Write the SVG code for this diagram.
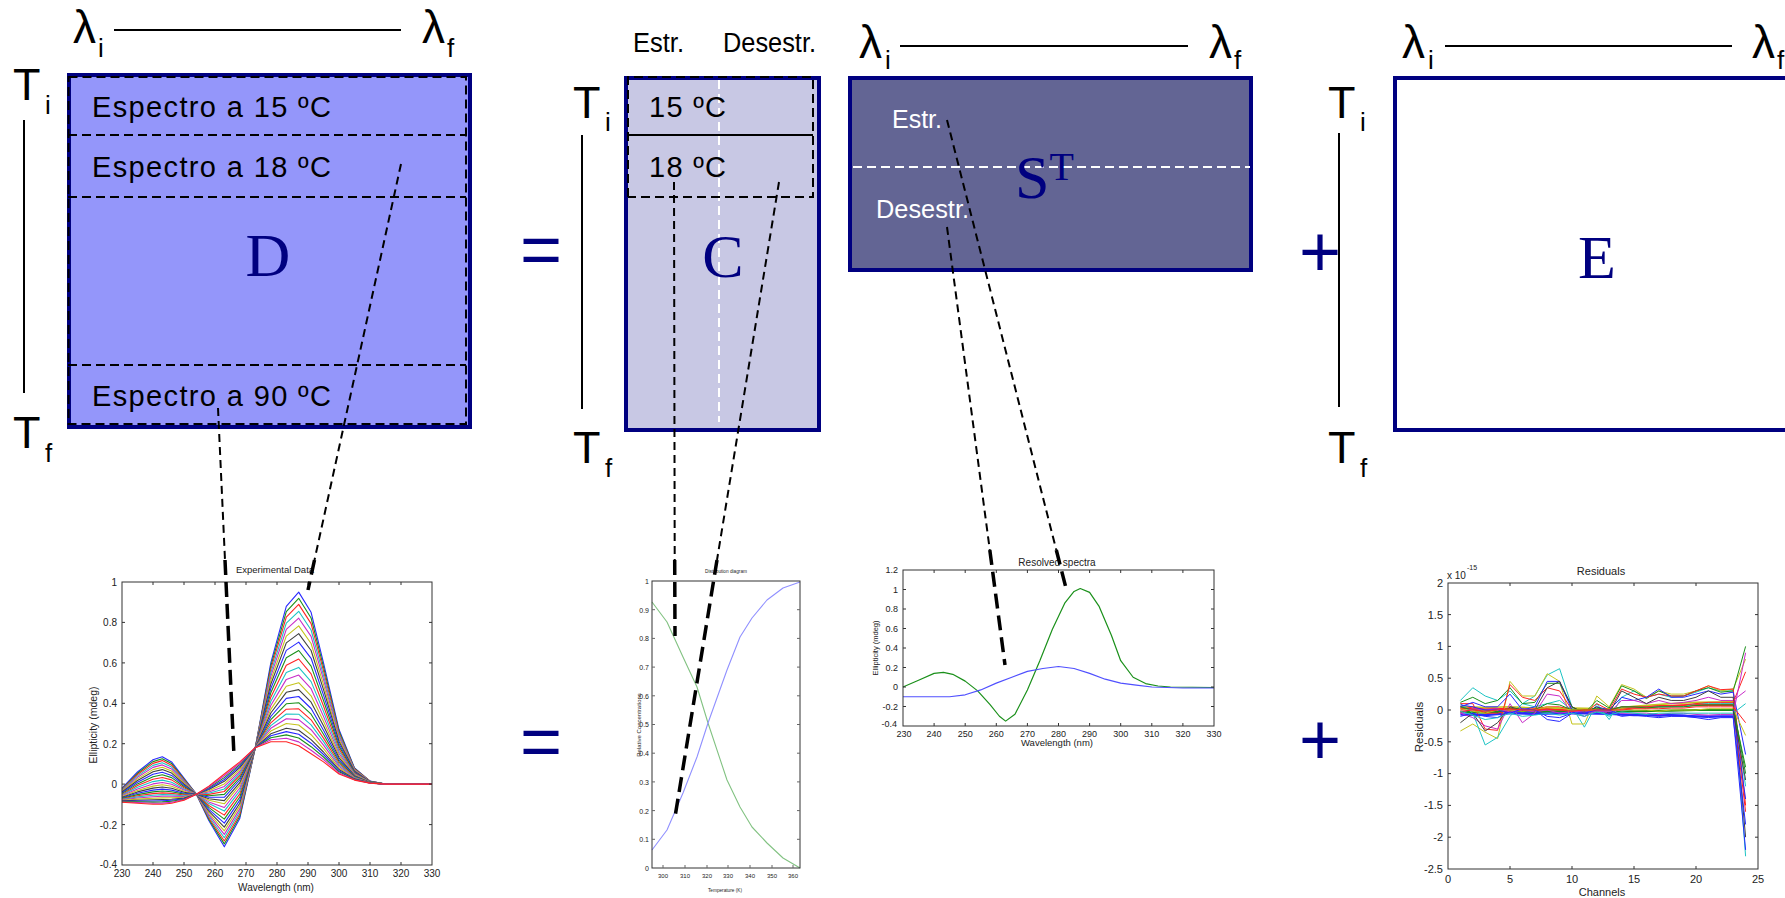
<svg xmlns="http://www.w3.org/2000/svg" width="1785" height="898" viewBox="0 0 1785 898">
<style>
.s{font-family:"Liberation Sans",Arial,sans-serif}
.lab{font-family:"Liberation Sans",Arial,sans-serif;fill:#000}
.big{font-family:"Liberation Serif","Times New Roman",serif;fill:#000080;font-size:62px}
.op{font-family:"Liberation Sans",Arial,sans-serif;fill:#000080;font-size:72px;text-anchor:middle}
.mat{stroke:#000080;stroke-width:4}
.dk{stroke:#000;stroke-width:2;stroke-dasharray:9 5;fill:none}
.wd{stroke:#fff;stroke-width:2;stroke-dasharray:9 5;fill:none}
.ax{stroke:#000;stroke-width:2;fill:none}
.cn{stroke:#000;stroke-width:2;stroke-dasharray:8 5;fill:none}
.cb{stroke:#000;stroke-width:3.5;stroke-dasharray:15 7;fill:none}
.tk{font-family:"Liberation Sans",Arial,sans-serif;fill:#222}
.box{fill:none;stroke:#333;stroke-width:1}
.cv{fill:none;stroke-width:1.1;stroke-linejoin:round}
.nv{fill:none;stroke-linejoin:round;vector-effect:non-scaling-stroke}
.b{stroke:#2828ff}.g{stroke:#1a901a}.r{stroke:#ff2424}.c{stroke:#1cc4c4}.m{stroke:#c82cc8}.y{stroke:#c4c41c}.k{stroke:#404040}
</style>

<!-- Matrix D -->
<g id="matrix-D">
<text class="lab" font-size="46"><tspan x="73" y="43">λ</tspan><tspan x="98" y="57" font-size="26">i</tspan></text>
<line class="ax" x1="114" y1="30" x2="401" y2="30"/>
<text class="lab" font-size="46"><tspan x="422" y="43">λ</tspan><tspan x="447" y="57" font-size="26">f</tspan></text>
<text class="lab" font-size="45"><tspan x="13" y="100">T</tspan><tspan x="45" y="114" font-size="26">i</tspan></text>
<line class="ax" x1="24" y1="120" x2="24" y2="393"/>
<text class="lab" font-size="45"><tspan x="13" y="448">T</tspan><tspan x="45" y="462" font-size="26">f</tspan></text>
<rect class="mat" x="69" y="75" width="401" height="352" fill="#9496fa"/>
<rect class="dk" x="68.5" y="77" width="397.5" height="347"/>
<line class="dk" x1="68" y1="135" x2="466" y2="135"/>
<line class="dk" x1="68" y1="197" x2="466" y2="197"/>
<line class="dk" x1="68" y1="365" x2="466" y2="365"/>
<text class="lab" font-size="29" x="92" y="117" textLength="239" lengthAdjust="spacing">Espectro a 15 ºC</text>
<text class="lab" font-size="29" x="92" y="177" textLength="239" lengthAdjust="spacing">Espectro a 18 ºC</text>
<text class="lab" font-size="29" x="92" y="406" textLength="239" lengthAdjust="spacing">Espectro a 90 ºC</text>
<text class="big" x="268" y="276" text-anchor="middle">D</text>
</g>

<g id="op-eq-top"><text class="op" x="541" y="274">=</text></g>

<!-- Matrix C -->
<g id="matrix-C">
<text class="lab" font-size="27" x="633" y="52" textLength="51" lengthAdjust="spacingAndGlyphs">Estr.</text>
<text class="lab" font-size="27" x="723" y="52" textLength="93" lengthAdjust="spacingAndGlyphs">Desestr.</text>
<text class="lab" font-size="45"><tspan x="573" y="118">T</tspan><tspan x="605" y="131" font-size="26">i</tspan></text>
<line class="ax" x1="582" y1="135" x2="582" y2="409"/>
<text class="lab" font-size="45"><tspan x="573" y="463">T</tspan><tspan x="605" y="477" font-size="26">f</tspan></text>
<rect class="mat" x="626" y="78" width="193" height="352" fill="#c8c8e4"/>
<line class="wd" x1="719" y1="80" x2="719" y2="422"/>
<path class="dk" d="M628 197 V77 H813 V197 H628"/>
<line stroke="#000" stroke-width="2" x1="628" y1="135" x2="813" y2="135"/>
<text class="lab" font-size="29" x="649" y="117" textLength="77" lengthAdjust="spacing">15 ºC</text>
<text class="lab" font-size="29" x="649" y="177" textLength="77" lengthAdjust="spacing">18 ºC</text>
<text class="big" x="723" y="277" text-anchor="middle">C</text>
</g>

<!-- Matrix S^T -->
<g id="matrix-ST">
<text class="lab" font-size="46"><tspan x="859" y="58">λ</tspan><tspan x="885" y="69" font-size="26">i</tspan></text>
<line class="ax" x1="900" y1="46" x2="1188" y2="46"/>
<text class="lab" font-size="46"><tspan x="1209" y="58">λ</tspan><tspan x="1234" y="69" font-size="26">f</tspan></text>
<rect class="mat" x="850" y="78" width="401" height="192" fill="#636594"/>
<line class="wd" x1="853" y1="167" x2="1250" y2="167"/>
<text class="s" fill="#fff" font-size="25" x="892" y="128" textLength="50" lengthAdjust="spacingAndGlyphs">Estr.</text>
<text class="s" fill="#fff" font-size="25" x="876" y="218" textLength="93" lengthAdjust="spacingAndGlyphs">Desestr.</text>
<text class="big" x="1015" y="198">S<tspan font-size="40" y="180">T</tspan></text>
</g>

<g id="op-plus-top"><text class="op" x="1320" y="276">+</text></g>

<!-- Matrix E -->
<g id="matrix-E">
<text class="lab" font-size="45"><tspan x="1328" y="118">T</tspan><tspan x="1360" y="131" font-size="26">i</tspan></text>
<line class="ax" x1="1339" y1="133" x2="1339" y2="407"/>
<text class="lab" font-size="45"><tspan x="1328" y="463">T</tspan><tspan x="1360" y="477" font-size="26">f</tspan></text>
<text class="lab" font-size="46"><tspan x="1402" y="58">λ</tspan><tspan x="1428" y="69" font-size="26">i</tspan></text>
<line class="ax" x1="1445" y1="46" x2="1732" y2="46"/>
<text class="lab" font-size="46"><tspan x="1752" y="58">λ</tspan><tspan x="1777" y="69" font-size="26">f</tspan></text>
<rect class="mat" x="1395" y="78" width="430" height="352" fill="#fff"/>
<text class="big" x="1597" y="278" text-anchor="middle">E</text>
</g>

<!-- Chart: Experimental data -->
<g id="chart-experimental">
<text class="tk" font-size="9.5" x="275" y="573" text-anchor="middle">Experimental Data</text>
<g class="cv">
<path class="b" d="M122,788.2 L137.5,772 153,759.8 162.3,756.8 171.6,761.9 184,778.1 196.4,794.2 208.8,820.5 224.3,846.8 239.8,818.5 255.3,747.7 270.8,662.9 286.3,606.3 298.7,592.1 311.1,612.3 323.5,662.9 339,729.5 354.5,768 370,781.1 385.5,784.1 432,784.1"/>
<path class="g" d="M122,788.8 L137.5,773.3 153,761.6 162.3,758.7 171.6,763.6 184,779 196.4,794.2 208.8,819.1 224.3,843.9 239.8,816.3 255.3,747.7 270.8,666.1 286.3,611.7 298.7,598.3 311.1,618 323.5,666.9 339,731.3 354.5,768.5 370,781.2 385.5,784.1 432,784.1"/>
<path class="r" d="M122,789.3 L137.5,774.5 153,763.4 162.3,760.6 171.6,765.2 184,779.9 196.4,794.2 208.8,817.7 224.3,841 239.8,814 255.3,747.7 270.8,669.2 286.3,617.1 298.7,604.4 311.1,623.6 323.5,670.8 339,733.1 354.5,769 370,781.3 385.5,784.1 432,784.1"/>
<path class="c" d="M122,790 L137.5,775.9 153,765.4 162.3,762.8 171.6,767.1 184,780.9 196.4,794.2 208.8,816.2 224.3,837.7 239.8,811.5 255.3,747.7 270.8,672.8 286.3,623.2 298.7,611.3 311.1,630 323.5,675.3 339,735.1 354.5,769.6 370,781.4 385.5,784.1 432,784.1"/>
<path class="m" d="M122,790.6 L137.5,777.3 153,767.4 162.3,764.9 171.6,768.9 184,781.9 196.4,794.2 208.8,814.7 224.3,834.4 239.8,808.9 255.3,747.7 270.8,676.3 286.3,629.3 298.7,618.2 311.1,636.4 323.5,679.7 339,737.1 354.5,770.1 370,781.4 385.5,784.1 432,784.1"/>
<path class="y" d="M122,791.3 L137.5,778.9 153,769.6 162.3,767.3 171.6,771 184,783 196.4,794.2 208.8,813 224.3,830.8 239.8,806.1 255.3,747.7 270.8,680.3 286.3,636.1 298.7,625.9 311.1,643.5 323.5,684.7 339,739.3 354.5,770.7 370,781.5 385.5,784.1 432,784.1"/>
<path class="k" d="M122,792 L137.5,780.5 153,771.8 162.3,769.6 171.6,773.1 184,784.1 196.4,794.2 208.8,811.2 224.3,827.1 239.8,803.2 255.3,747.7 270.8,684.2 286.3,642.9 298.7,633.6 311.1,650.5 323.5,689.6 339,741.5 354.5,771.3 370,781.6 385.5,784.1 432,784.1"/>
<path class="b" d="M122,792.8 L137.5,782.2 153,774.3 162.3,772.2 171.6,775.4 184,785.3 196.4,794.2 208.8,809.3 224.3,823.1 239.8,800.1 255.3,747.7 270.8,688.5 286.3,650.4 298.7,642.1 311.1,658.3 323.5,695.1 339,744 354.5,772 370,781.8 385.5,784.1 432,784.1"/>
<path class="g" d="M122,793.6 L137.5,783.9 153,776.7 162.3,774.8 171.6,777.6 184,786.5 196.4,794.2 208.8,807.4 224.3,819.1 239.8,797 255.3,747.7 270.8,692.8 286.3,657.8 298.7,650.5 311.1,666.1 323.5,700.5 339,746.4 354.5,772.6 370,781.9 385.5,784.1 432,784.1"/>
<path class="r" d="M122,794.4 L137.5,785.6 153,779.2 162.3,777.5 171.6,779.9 184,787.8 196.4,794.2 208.8,805.5 224.3,815.1 239.8,793.9 255.3,747.7 270.8,697.2 286.3,665.2 298.7,659 311.1,673.9 323.5,706 339,748.9 354.5,773.3 370,782 385.5,784.1 432,784.1"/>
<path class="c" d="M122,795.1 L137.5,787.3 153,781.6 162.3,780.1 171.6,782.2 184,789 196.4,794.2 208.8,803.6 224.3,811.1 239.8,790.8 255.3,747.7 270.8,701.5 286.3,672.6 298.7,667.4 311.1,681.6 323.5,711.4 339,751.3 354.5,773.9 370,782.1 385.5,784.1 432,784.1"/>
<path class="m" d="M122,795.8 L137.5,788.9 153,783.9 162.3,782.5 171.6,784.3 184,790.1 196.4,794.2 208.8,801.9 224.3,807.5 239.8,788 255.3,747.7 270.8,705.5 286.3,679.4 298.7,675.1 311.1,688.7 323.5,716.4 339,753.6 354.5,774.5 370,782.2 385.5,784.1 432,784.1"/>
<path class="y" d="M122,796.5 L137.5,790.5 153,786.1 162.3,784.8 171.6,786.3 184,791.2 196.4,794.2 208.8,800.2 224.3,803.8 239.8,785.1 255.3,747.7 270.8,709.4 286.3,686.2 298.7,682.7 311.1,695.8 323.5,721.3 339,755.8 354.5,775.1 370,782.3 385.5,784.1 432,784.1"/>
<path class="k" d="M122,797.2 L137.5,791.9 153,788.1 162.3,787 171.6,788.2 184,792.2 196.4,794.2 208.8,798.7 224.3,800.6 239.8,782.6 255.3,747.7 270.8,713 286.3,692.3 298.7,689.6 311.1,702.2 323.5,725.8 339,757.8 354.5,775.7 370,782.4 385.5,784.1 432,784.1"/>
<path class="b" d="M122,797.8 L137.5,793.3 153,790.1 162.3,789.1 171.6,790.1 184,793.2 196.4,794.2 208.8,797.1 224.3,797.3 239.8,780 255.3,747.7 270.8,716.5 286.3,698.4 298.7,696.5 311.1,708.5 323.5,730.2 339,759.8 354.5,776.2 370,782.5 385.5,784.1 432,784.1"/>
<path class="g" d="M122,798.4 L137.5,794.6 153,791.9 162.3,791 171.6,791.8 184,794.1 196.4,794.2 208.8,795.8 224.3,794.4 239.8,777.8 255.3,747.7 270.8,719.7 286.3,703.8 298.7,702.7 311.1,714.2 323.5,734.2 339,761.6 354.5,776.7 370,782.6 385.5,784.1 432,784.1"/>
<path class="r" d="M122,798.9 L137.5,795.8 153,793.6 162.3,792.9 171.6,793.4 184,795 196.4,794.2 208.8,794.4 224.3,791.5 239.8,775.5 255.3,747.7 270.8,722.8 286.3,709.2 298.7,708.8 311.1,719.8 323.5,738.1 339,763.3 354.5,777.2 370,782.6 385.5,784.1 432,784.1"/>
<path class="c" d="M122,799.4 L137.5,796.9 153,795.2 162.3,794.6 171.6,794.9 184,795.8 196.4,794.2 208.8,793.2 224.3,789 239.8,773.5 255.3,747.7 270.8,725.6 286.3,714 298.7,714.2 311.1,724.8 323.5,741.6 339,764.9 354.5,777.6 370,782.7 385.5,784.1 432,784.1"/>
<path class="m" d="M122,799.9 L137.5,798 153,796.7 162.3,796.2 171.6,796.3 184,796.5 196.4,794.2 208.8,791.9 224.3,786.4 239.8,771.5 255.3,747.7 270.8,728.3 286.3,718.7 298.7,719.6 311.1,729.7 323.5,745.1 339,766.4 354.5,778 370,782.8 385.5,784.1 432,784.1"/>
<path class="y" d="M122,800.4 L137.5,799.1 153,798.3 162.3,797.9 171.6,797.8 184,797.3 196.4,794.2 208.8,790.7 224.3,783.9 239.8,769.6 255.3,747.7 270.8,731.1 286.3,723.5 298.7,725 311.1,734.7 323.5,748.6 339,768 354.5,778.5 370,782.9 385.5,784.1 432,784.1"/>
<path class="k" d="M122,800.9 L137.5,800.2 153,799.8 162.3,799.5 171.6,799.2 184,798.1 196.4,794.2 208.8,789.5 224.3,781.3 239.8,767.6 255.3,747.7 270.8,733.8 286.3,728.2 298.7,730.3 311.1,739.6 323.5,752 339,769.5 354.5,778.9 370,782.9 385.5,784.1 432,784.1"/>
<path class="b" d="M122,801.3 L137.5,801 153,801 162.3,800.7 171.6,800.2 184,798.7 196.4,794.2 208.8,788.7 224.3,779.5 239.8,766.2 255.3,747.7 270.8,735.8 286.3,731.6 298.7,734.2 311.1,743.2 323.5,754.5 339,770.7 354.5,779.2 370,783 385.5,784.1 432,784.1"/>
<path class="g" d="M122,801.6 L137.5,801.7 153,802.1 162.3,801.9 171.6,801.2 184,799.2 196.4,794.2 208.8,787.8 224.3,777.6 239.8,764.7 255.3,747.7 270.8,737.8 286.3,734.9 298.7,738 311.1,746.7 323.5,757 339,771.8 354.5,779.5 370,783 385.5,784.1 432,784.1"/>
<path class="m" d="M122,802 L137.5,802.5 153,803.2 162.3,803.1 171.6,802.3 184,799.8 196.4,794.2 208.8,787 224.3,775.8 239.8,763.3 255.3,747.7 270.8,739.8 286.3,738.3 298.7,741.9 311.1,750.3 323.5,759.5 339,772.9 354.5,779.8 370,783.1 385.5,784.1 432,784.1"/>
<path class="r" d="M122,802.3 L137.5,803.3 153,804.3 162.3,804.3 171.6,803.3 184,800.3 196.4,794.2 208.8,786.1 224.3,774 239.8,761.9 255.3,747.7 270.8,741.7 286.3,741.7 298.7,745.7 311.1,753.8 323.5,761.9 339,774 354.5,780.1 370,783.1 385.5,784.1 432,784.1"/>
</g>
<rect class="box" x="122" y="582" width="310" height="283"/>
<path stroke="#333" stroke-width="1" d="M122,622.4h3M122,662.9h3M122,703.3h3M122,743.7h3M122,784.1h3M122,824.6h3M432,622.4h-3M432,662.9h-3M432,703.3h-3M432,743.7h-3M432,784.1h-3M432,824.6h-3M153,865v-3M184,865v-3M215,865v-3M246,865v-3M277,865v-3M308,865v-3M339,865v-3M370,865v-3M401,865v-3M153,582v3M184,582v3M215,582v3M246,582v3M277,582v3M308,582v3M339,582v3M370,582v3M401,582v3"/>
<g class="tk" font-size="10" text-anchor="end">
<text x="117" y="586">1</text><text x="117" y="626">0.8</text><text x="117" y="667">0.6</text><text x="117" y="707">0.4</text><text x="117" y="748">0.2</text><text x="117" y="788">0</text><text x="117" y="829">-0.2</text><text x="117" y="868">-0.4</text>
</g>
<g class="tk" font-size="10" text-anchor="middle">
<text x="122" y="877">230</text><text x="153" y="877">240</text><text x="184" y="877">250</text><text x="215" y="877">260</text><text x="246" y="877">270</text><text x="277" y="877">280</text><text x="308" y="877">290</text><text x="339" y="877">300</text><text x="370" y="877">310</text><text x="401" y="877">320</text><text x="432" y="877">330</text>
</g>
<text class="tk" font-size="10" x="276" y="891" text-anchor="middle">Wavelength (nm)</text>
<text class="tk" font-size="10.5" text-anchor="middle" transform="translate(97,725) rotate(-90)">Ellipticity (mdeg)</text>
</g>

<g id="op-eq-bottom"><text class="op" x="541" y="766">=</text></g>

<!-- Chart: distribution diagram -->
<g id="chart-distribution">
<text class="tk" fill="#777" font-size="6" x="705" y="573" textLength="42" lengthAdjust="spacingAndGlyphs">Distribution diagram</text>
<path class="cv" stroke="#82c282" stroke-width="1.4" d="M652,602 L667,622 683,657 697,687 708,723 727,780 740,807 752,827 767,843 783,858 800,868"/>
<path class="cv" stroke="#9090ff" stroke-width="1.4" d="M652,850 L667,830 683,793 697,757 708,723 727,670 740,637 752,618 767,600 783,588 800,582"/>
<rect class="box" x="652" y="581" width="148" height="287" stroke="#666"/>
<path stroke="#666" stroke-width="1" d="M652,609.7h3M652,638.4h3M652,667.1h3M652,695.8h3M652,724.5h3M652,753.2h3M652,781.9h3M652,810.6h3M652,839.3h3M800,609.7h-3M800,638.4h-3M800,667.1h-3M800,695.8h-3M800,724.5h-3M800,753.2h-3M800,781.9h-3M800,810.6h-3M800,839.3h-3M663,868v-3M685,868v-3M707,868v-3M728,868v-3M750,868v-3M772,868v-3M793,868v-3"/>
<g class="tk" fill="#666" font-size="7" text-anchor="end">
<text x="649" y="584">1</text><text x="649" y="613">0.9</text><text x="649" y="641">0.8</text><text x="649" y="670">0.7</text><text x="649" y="699">0.6</text><text x="649" y="727">0.5</text><text x="649" y="756">0.4</text><text x="649" y="785">0.3</text><text x="649" y="814">0.2</text><text x="649" y="842">0.1</text><text x="649" y="871">0</text>
</g>
<g class="tk" fill="#666" font-size="6" text-anchor="middle">
<text x="663" y="878">300</text><text x="685" y="878">310</text><text x="707" y="878">320</text><text x="728" y="878">330</text><text x="750" y="878">340</text><text x="772" y="878">350</text><text x="793" y="878">360</text>
</g>
<text class="tk" fill="#777" font-size="6" x="708" y="892" textLength="34" lengthAdjust="spacingAndGlyphs">Temperature (K)</text>
<text class="tk" fill="#777" font-size="6" text-anchor="middle" transform="translate(641,725) rotate(-90)">Relative Concentrations</text>
</g>

<!-- Chart: resolved spectra -->
<g id="chart-resolved">
<text class="tk" font-size="10" x="1057" y="566" text-anchor="middle">Resolved spectra</text>
<g transform="translate(187.7,687) scale(3.11,-97.5)">
<path class="nv g" stroke-width="1.2" d="M230,0 L235,0.07 240,0.14 243,0.15 246,0.13 250,0.06 254,-0.04 258,-0.18 261,-0.3 263,-0.35 266,-0.28 270,-0.03 274,0.27 278,0.59 282,0.86 285,0.98 287,1.01 290,0.97 293,0.83 297,0.53 300,0.27 304,0.1 308,0.035 312,0.01 316,0 330,-0.005"/>
<path class="nv" stroke="#5050ff" stroke-width="1.2" d="M230,-0.1 L245,-0.1 250,-0.08 255,-0.03 260,0.04 265,0.1 270,0.16 275,0.19 280,0.21 285,0.19 290,0.14 295,0.08 300,0.04 305,0.02 310,0 320,-0.01 330,-0.01"/>
</g>
<rect class="box" x="903" y="570" width="311" height="156"/>
<path stroke="#333" stroke-width="1" d="M903,589.5h3M903,609h3M903,628.5h3M903,648h3M903,667.5h3M903,687h3M903,706.5h3M1214,589.5h-3M1214,609h-3M1214,628.5h-3M1214,648h-3M1214,667.5h-3M1214,687h-3M1214,706.5h-3M934.1,726v-3M965.2,726v-3M996.3,726v-3M1027.4,726v-3M1058.5,726v-3M1089.6,726v-3M1120.7,726v-3M1151.8,726v-3M1182.9,726v-3M934.1,570v3M965.2,570v3M996.3,570v3M1027.4,570v3M1058.5,570v3M1089.6,570v3M1120.7,570v3M1151.8,570v3M1182.9,570v3"/>
<g class="tk" font-size="9" text-anchor="end">
<text x="898" y="573">1.2</text><text x="898" y="593">1</text><text x="898" y="612">0.8</text><text x="898" y="632">0.6</text><text x="898" y="651">0.4</text><text x="898" y="671">0.2</text><text x="898" y="690">0</text><text x="898" y="710">-0.2</text><text x="897" y="727">-0.4</text>
</g>
<g class="tk" font-size="9" text-anchor="middle">
<text x="904" y="737">230</text><text x="934.1" y="737">240</text><text x="965.2" y="737">250</text><text x="996.3" y="737">260</text><text x="1027.4" y="737">270</text><text x="1058.5" y="737">280</text><text x="1089.6" y="737">290</text><text x="1120.7" y="737">300</text><text x="1151.8" y="737">310</text><text x="1182.9" y="737">320</text><text x="1214" y="737">330</text>
</g>
<text class="tk" font-size="9.5" x="1057" y="746" text-anchor="middle">Wavelength (nm)</text>
<text class="tk" font-size="7.5" text-anchor="middle" transform="translate(878,648) rotate(-90)">Ellipticity (mdeg)</text>
</g>

<g id="op-plus-bottom"><text class="op" x="1320" y="764">+</text></g>

<!-- Chart: residuals -->
<g id="chart-residuals">
<text class="tk" font-size="11" x="1601" y="575" text-anchor="middle">Residuals</text>
<text class="tk" font-size="10" x="1447" y="579">x 10</text>
<text class="tk" font-size="7" x="1467" y="570">-15</text>
<g transform="translate(1448,710) scale(12.4,-63.6)" stroke-width="1">
<path class="nv r" stroke-width="2.2" d="M1,0.03 L3,0.01 5,0.02 7,0 10,0.01 13,0 15,0.04 18,0.06 20,0.08 23,0.08"/>
<path class="nv g" stroke-width="2.2" d="M1,-0.03 L3,-0.04 5,-0.02 7,-0.03 10,-0.02 13,-0.03 15,-0.02 18,-0.01 20,0 23,0"/>
<path class="nv b" stroke-width="2.2" d="M1,-0.07 L3,-0.08 5,-0.05 7,-0.06 10,-0.05 13,-0.06 15,-0.08 18,-0.08 20,-0.1 23,-0.1"/>
<path class="nv y" stroke-width="1.6" d="M1,0.06 L3,0.04 5,0.05 7,0.03 10,0.03 13,0.02 15,0.06 18,0.1 20,0.12 23,0.13"/>
<path class="nv c" d="M1,0.15 L2,0.35 3,0.22 4,0.15 5,0.3 6,0.1 7,0.22 8,0.55 9,0.65 10,0.05 11,-0.27 12,0.1 13,-0.15 14,0.2 15,0.3 16,0.2 17,0.25 18,0.2 19,0.22 20,0.28 21,0.35 22,0.3 23,0.3 24,-2.3"/>
<path class="nv y" d="M1,-0.33 L2,-0.22 3,-0.35 4,-0.45 5,0.45 6,0.22 7,0.22 8,0.57 9,0.45 10,-0.22 11,-0.22 12,0.22 13,0.05 14,0.4 15,0.33 16,0.2 17,0.3 18,0.25 19,0.25 20,0.3 21,0.38 22,0.3 23,0.33 24,0.8"/>
<path class="nv c" d="M1,0.1 L2,-0.05 3,-0.55 4,-0.43 5,-0.1 6,0.1 7,0.05 8,0.1 9,0.15 10,0 11,-0.1 12,0 13,-0.1 14,0.05 15,0.05 16,0.05 17,0.05 18,0.05 19,0.05 20,0.1 21,0.1 22,0.1 23,0.1 24,-1.2"/>
<path class="nv g" d="M1,0.12 L2,0.2 3,0.1 4,0.15 5,0.35 6,0.1 7,0.12 8,0.42 9,0.42 10,0.05 11,-0.05 12,0.15 13,0.03 14,0.38 15,0.3 16,0.18 17,0.3 18,0.22 19,0.22 20,0.3 21,0.35 22,0.28 23,0.3 24,1"/>
<path class="nv r" d="M1,0.1 L2,0.1 3,-0.3 4,-0.32 5,0.4 6,0.2 7,0.15 8,0.35 9,0.3 10,0 11,-0.05 12,0.1 13,0 14,0.33 15,0.25 16,0.2 17,0.25 18,0.22 19,0.22 20,0.3 21,0.38 22,0.32 23,0.33 24,-1.5"/>
<path class="nv b" d="M1,0.05 L2,0.12 3,0.05 4,0.05 5,0.25 6,0 7,0.05 8,0.45 9,0.45 10,0 11,-0.05 12,0.05 13,0 14,0.2 15,0.15 16,0.2 17,0.33 18,0.2 19,0.2 20,0.25 21,0.3 22,0.25 23,0.28 24,-0.7"/>
<path class="nv m" d="M1,-0.05 L2,-0.12 3,-0.25 4,-0.3 5,0.1 6,-0.2 7,-0.05 8,0.25 9,0.22 10,-0.05 11,-0.1 12,0 13,-0.05 14,0.15 15,0.15 16,0.1 17,0.15 18,0.1 19,0.12 20,0.15 21,0.2 22,0.15 23,0.15 24,0.3"/>
<path class="nv k" d="M1,-0.2 L2,-0.05 3,-0.33 4,-0.2 5,0.05 6,0 7,0 8,0.35 9,0.45 10,0.05 11,-0.05 12,0.05 13,-0.05 14,0.3 15,0.2 16,0.1 17,0.2 18,0.15 19,0.15 20,0.2 21,0.3 22,0.2 23,0.2 24,-2"/>
<path class="nv b" d="M1,-0.1 L2,-0.05 3,-0.1 4,-0.12 5,0 6,-0.05 7,0 8,-0.15 9,-0.18 10,-0.05 11,-0.05 12,0 13,-0.03 14,-0.1 15,-0.08 16,-0.1 17,-0.12 18,-0.1 19,-0.1 20,-0.12 21,-0.15 22,-0.12 23,-0.12 24,-1.8"/>
<path class="nv r" d="M1,0 L2,0.05 3,-0.05 4,-0.05 5,0 6,0 7,0.02 8,0.05 9,0.05 10,0 11,0 12,0 13,0 14,0.05 15,0.05 16,0.05 17,0.07 18,0.07 19,0.08 20,0.1 21,0.12 22,0.12 23,0.12 24,0.6"/>
<path class="nv g" d="M1,0.05 L2,0 3,0 4,-0.03 5,0.03 6,0 7,0 8,0.1 9,0.08 10,0 11,0 12,0.02 13,0 14,0.05 15,0.05 16,0.03 17,0.05 18,0.05 19,0.05 20,0.07 21,0.08 22,0.08 23,0.08 24,-1"/>
<path class="nv y" d="M1,0.02 L2,-0.02 3,-0.05 4,0 5,0 6,-0.02 7,0 8,0.05 9,0.03 10,0 11,0 12,0 13,-0.02 14,0.02 15,0 16,0 17,-0.02 18,0 19,0 20,0 21,0.02 22,0.02 23,0.02 24,-0.4"/>
<path class="nv m" d="M1,-0.05 L2,0.02 3,0 4,0.02 5,-0.03 6,0 7,-0.03 8,0 9,-0.05 10,-0.02 11,-0.03 12,-0.02 13,-0.02 14,-0.05 15,-0.05 16,-0.05 17,-0.07 18,-0.05 19,-0.05 20,-0.07 21,-0.08 22,-0.07 23,-0.07 24,0.9"/>
<path class="nv b" d="M1,0.08 L2,0.05 3,0 4,0 5,-0.05 6,0.02 7,0 8,-0.1 9,-0.12 10,-0.05 11,-0.05 12,0 13,0 14,-0.08 15,-0.07 16,-0.08 17,-0.1 18,-0.08 19,-0.08 20,-0.1 21,-0.12 22,-0.1 23,-0.1 24,-2.2"/>
<path class="nv r" d="M1,-0.02 L2,0 3,-0.02 4,0 5,0.02 6,0 7,0 8,0.02 9,0 10,-0.02 11,0 12,0 13,0 14,0 15,0.02 16,0.02 17,0.02 18,0.03 19,0.03 20,0.05 21,0.05 22,0.05 23,0.05 24,-1.6"/>
<path class="nv c" d="M1,-0.02 L2,-0.08 3,-0.15 4,-0.12 5,-0.05 6,-0.1 7,-0.08 8,-0.05 9,-0.08 10,-0.05 11,-0.1 12,-0.03 13,-0.08 14,-0.03 15,-0.05 16,-0.07 17,-0.05 18,-0.05 19,-0.05 20,-0.05 21,-0.05 22,-0.05 23,-0.05 24,0.1"/>
<path class="nv g" d="M23,0.02 L24,-0.9"/>
<path class="nv b" d="M23,0 L24,-1.4"/>
<path class="nv r" d="M23,0.05 L24,-0.2"/>
<path class="nv k" d="M23,-0.02 L24,-1.1"/>
</g>
<rect class="box" x="1448" y="583" width="310" height="286"/>
<path stroke="#333" stroke-width="1" d="M1448,614.6h3M1448,646.4h3M1448,678.2h3M1448,710h3M1448,741.8h3M1448,773.6h3M1448,805.4h3M1448,837.2h3M1758,614.6h-3M1758,646.4h-3M1758,678.2h-3M1758,710h-3M1758,741.8h-3M1758,773.6h-3M1758,805.4h-3M1758,837.2h-3M1510,869v-3M1572,869v-3M1634,869v-3M1696,869v-3M1510,583v3M1572,583v3M1634,583v3M1696,583v3"/>
<g class="tk" font-size="11" text-anchor="end">
<text x="1443" y="587">2</text><text x="1443" y="619">1.5</text><text x="1443" y="650">1</text><text x="1443" y="682">0.5</text><text x="1443" y="714">0</text><text x="1443" y="746">-0.5</text><text x="1443" y="777">-1</text><text x="1443" y="809">-1.5</text><text x="1443" y="841">-2</text><text x="1443" y="873">-2.5</text>
</g>
<g class="tk" font-size="11" text-anchor="middle">
<text x="1448" y="883">0</text><text x="1510" y="883">5</text><text x="1572" y="883">10</text><text x="1634" y="883">15</text><text x="1696" y="883">20</text><text x="1758" y="883">25</text>
</g>
<text class="tk" font-size="11" x="1602" y="896" text-anchor="middle">Channels</text>
<text class="tk" font-size="11.5" text-anchor="middle" transform="translate(1423,727) rotate(-90)">Residuals</text>
</g>

<!-- Connectors -->
<g id="connectors">
<path class="cn" d="M218,408 L225,560"/>
<path class="cb" d="M225,560 L234,756"/>
<path class="cn" d="M401,164 L314.5,560"/>
<path class="cb" d="M314.5,560 L308,590"/>
<path class="cn" d="M674,182 L674.7,560"/>
<path class="cb" d="M674.7,560 L675,636"/>
<path class="cn" d="M779,182 L717,560"/>
<path class="cb" d="M717,560 L675,817"/>
<path class="cn" d="M947,120 L1056.3,550"/>
<path class="cb" d="M1056.3,550 L1067,592"/>
<path class="cn" d="M947,227 L989.8,550"/>
<path class="cb" d="M989.8,550 L1005,665"/>
</g>
</svg>
